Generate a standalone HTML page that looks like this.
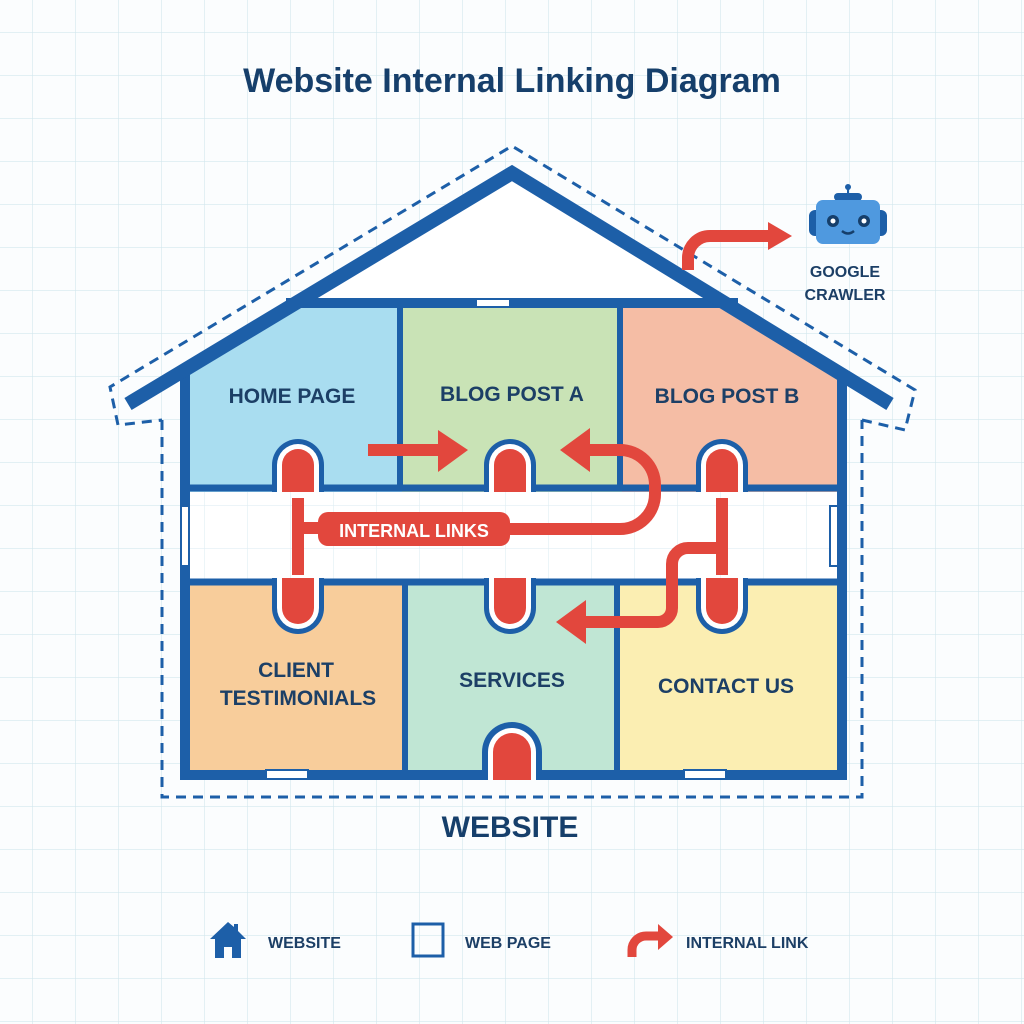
<!DOCTYPE html>
<html><head><meta charset="utf-8"><style>
html,body{margin:0;padding:0;background:#fbfdfe}
svg{display:block}
text{font-family:"Liberation Sans",sans-serif;font-weight:bold}
</style></head><body>
<svg width="1024" height="1024" viewBox="0 0 1024 1024" xmlns="http://www.w3.org/2000/svg">
<defs>
<pattern id="g" width="43" height="43" patternUnits="userSpaceOnUse" x="-10" y="-10">
<path d="M43 0V43M0 43H43" stroke="#d3e7ee" stroke-width="1.2" fill="none"/>
</pattern>
<clipPath id="hc"><polygon points="130,400 512,172 892,400 892,800 130,800"/></clipPath>
</defs>
<rect width="1024" height="1024" fill="#fbfdfe"/>
<rect width="1024" height="1024" fill="url(#g)"/>
<text x="512" y="92" text-anchor="middle" font-size="34" fill="#163f6b">Website Internal Linking Diagram</text>

<path d="M162,420 V797 H862 V420 M862,420 L905,430 L915,390 L512,146 L110,387 L118,425 L162,420" fill="none" stroke="#1d5fa8" stroke-width="3" stroke-dasharray="10 7"/>

<g clip-path="url(#hc)">
<rect x="185" y="306" width="217" height="186" fill="#a9ddf0"/>
<rect x="402" y="306" width="220" height="186" fill="#c9e3b6"/>
<rect x="622" y="306" width="220" height="186" fill="#f5bda5"/>
<rect x="185" y="580" width="222" height="192" fill="#f8cd9b"/>
<rect x="407" y="580" width="210" height="192" fill="#c0e6d4"/>
<rect x="617" y="580" width="225" height="192" fill="#fbeeb2"/>
<rect x="185" y="492" width="657" height="88" fill="#ffffff"/>
<rect x="185" y="492" width="657" height="88" fill="url(#g)" opacity="0.7"/>
<polygon points="130,400 512,172 892,400 892,300 130,300" fill="#fbfdfe"/>
<polygon points="290,300 512,172 734,300" fill="#ffffff"/>
</g>
<g stroke="#1d5fa8" fill="none">
<path d="M185,372 V775 H842 V372" stroke-width="10"/>
<path d="M286,303 H738" stroke-width="10"/>
<path d="M185,488 H842 M185,582 H842" stroke-width="7"/>
<path d="M400,306 V488 M620,306 V488 M405,582 V772 M617,582 V772" stroke-width="6"/>
<path d="M128,404 L512,173 L890,404" stroke-width="14" stroke-linejoin="miter"/>
</g>
<g fill="#fff" stroke="#1d5fa8" stroke-width="2">
<rect x="476" y="299" width="34" height="8"/>
<rect x="266" y="770" width="42" height="9"/>
<rect x="684" y="770" width="42" height="9"/>
<rect x="181" y="506" width="8" height="60"/>
<rect x="830" y="506" width="8" height="60"/>
</g>
<g>
<g transform="translate(298,0)"><path d="M-26,492 V465 A26,26 0 0 1 26,465 V492Z" fill="#1d5fa8"/><path d="M-21,492 V465 A21,21 0 0 1 21,465 V492Z" fill="#fff"/><path d="M-16,492 V465 A16,16 0 0 1 16,465 V492Z" fill="#e2473d"/></g>
<g transform="translate(510,0)"><path d="M-26,492 V465 A26,26 0 0 1 26,465 V492Z" fill="#1d5fa8"/><path d="M-21,492 V465 A21,21 0 0 1 21,465 V492Z" fill="#fff"/><path d="M-16,492 V465 A16,16 0 0 1 16,465 V492Z" fill="#e2473d"/></g>
<g transform="translate(722,0)"><path d="M-26,492 V465 A26,26 0 0 1 26,465 V492Z" fill="#1d5fa8"/><path d="M-21,492 V465 A21,21 0 0 1 21,465 V492Z" fill="#fff"/><path d="M-16,492 V465 A16,16 0 0 1 16,465 V492Z" fill="#e2473d"/></g>
<g transform="translate(298,0)"><path d="M-26,578 V608 A26,26 0 0 0 26,608 V578Z" fill="#1d5fa8"/><path d="M-21,578 V608 A21,21 0 0 0 21,608 V578Z" fill="#fff"/><path d="M-16,578 V608 A16,16 0 0 0 16,608 V578Z" fill="#e2473d"/></g>
<g transform="translate(510,0)"><path d="M-26,578 V608 A26,26 0 0 0 26,608 V578Z" fill="#1d5fa8"/><path d="M-21,578 V608 A21,21 0 0 0 21,608 V578Z" fill="#fff"/><path d="M-16,578 V608 A16,16 0 0 0 16,608 V578Z" fill="#e2473d"/></g>
<g transform="translate(722,0)"><path d="M-26,578 V608 A26,26 0 0 0 26,608 V578Z" fill="#1d5fa8"/><path d="M-21,578 V608 A21,21 0 0 0 21,608 V578Z" fill="#fff"/><path d="M-16,578 V608 A16,16 0 0 0 16,608 V578Z" fill="#e2473d"/></g>
<g transform="translate(512,0)"><path d="M-30,780 V752 A30,30 0 0 1 30,752 V780Z" fill="#1d5fa8"/><path d="M-24,780 V752 A24,24 0 0 1 24,752 V780Z" fill="#fff"/><path d="M-19,780 V752 A19,19 0 0 1 19,752 V780Z" fill="#e2473d"/></g>
</g>
<g fill="none" stroke="#e2473d" stroke-width="12">
<path d="M298,498 V575"/>
<path d="M298,528 H330"/>
<path d="M500,529 H620 A35,35 0 0 0 655,494 V485 A35,35 0 0 0 620,450 H585"/>
<path d="M722,498 V575"/>
<path d="M722,548 H688 A16,16 0 0 0 672,564 V608 A14,14 0 0 1 658,622 H580"/>
<path d="M368,450 H440"/>
<path d="M688,270 V258 A22,22 0 0 1 710,236 H770"/>
</g>
<g fill="#e2473d">
<polygon points="438,430 468,450 438,472"/>
<polygon points="590,428 560,450 590,472"/>
<polygon points="586,600 556,622 586,644"/>
<polygon points="768,222 792,236 768,250"/>
<rect x="318" y="512" width="192" height="34" rx="10"/>
</g>
<text x="414" y="537" text-anchor="middle" font-size="18" fill="#fff">INTERNAL LINKS</text>

<g font-size="21" fill="#1c3f66" text-anchor="middle">
<text x="292" y="403">HOME PAGE</text>
<text x="512" y="401">BLOG POST A</text>
<text x="727" y="403">BLOG POST B</text>
<text x="296" y="677">CLIENT</text>
<text x="298" y="705">TESTIMONIALS</text>
<text x="512" y="687">SERVICES</text>
<text x="726" y="693">CONTACT US</text>
</g>
<text x="510" y="837" text-anchor="middle" font-size="30" fill="#163f6b">WEBSITE</text>

<g>
<circle cx="848" cy="187" r="3" fill="#1d5fa8"/>
<rect x="847" y="187" width="2" height="8" fill="#1d5fa8"/>
<rect x="834" y="193" width="28" height="8" rx="4" fill="#1d5fa8"/>
<rect x="809" y="210" width="14" height="26" rx="6" fill="#1d5fa8"/>
<rect x="873" y="210" width="14" height="26" rx="6" fill="#1d5fa8"/>
<rect x="816" y="200" width="64" height="44" rx="7" fill="#4f99df"/>
<circle cx="833" cy="221" r="6" fill="#163f6b"/><circle cx="864" cy="221" r="6" fill="#163f6b"/>
<circle cx="833" cy="221" r="2.5" fill="#fff"/><circle cx="864" cy="221" r="2.5" fill="#fff"/>
<path d="M842,231 Q848,236 854,231" stroke="#163f6b" stroke-width="2.5" fill="none"/>
</g>
<g font-size="16" fill="#1c3f66" text-anchor="middle">
<text x="845" y="277">GOOGLE</text>
<text x="845" y="300">CRAWLER</text>
</g>

<path d="M228,922 L210,939 H215 V958 H224 V947 H232 V958 H241 V939 H246 L238,931 V924 H234 V927 Z" fill="#1d5fa8"/>
<text x="268" y="948" font-size="16" fill="#1c3f66">WEBSITE</text>
<rect x="413" y="924" width="30" height="32" fill="none" stroke="#1d5fa8" stroke-width="3"/>
<text x="465" y="948" font-size="16" fill="#1c3f66">WEB PAGE</text>
<path d="M632,957 V950 A14,14 0 0 1 646,936 H660" stroke="#e2473d" stroke-width="9" fill="none"/>
<polygon points="658,924 673,937 658,950" fill="#e2473d"/>
<text x="686" y="948" font-size="16" fill="#1c3f66">INTERNAL LINK</text>
</svg>
</body></html>
